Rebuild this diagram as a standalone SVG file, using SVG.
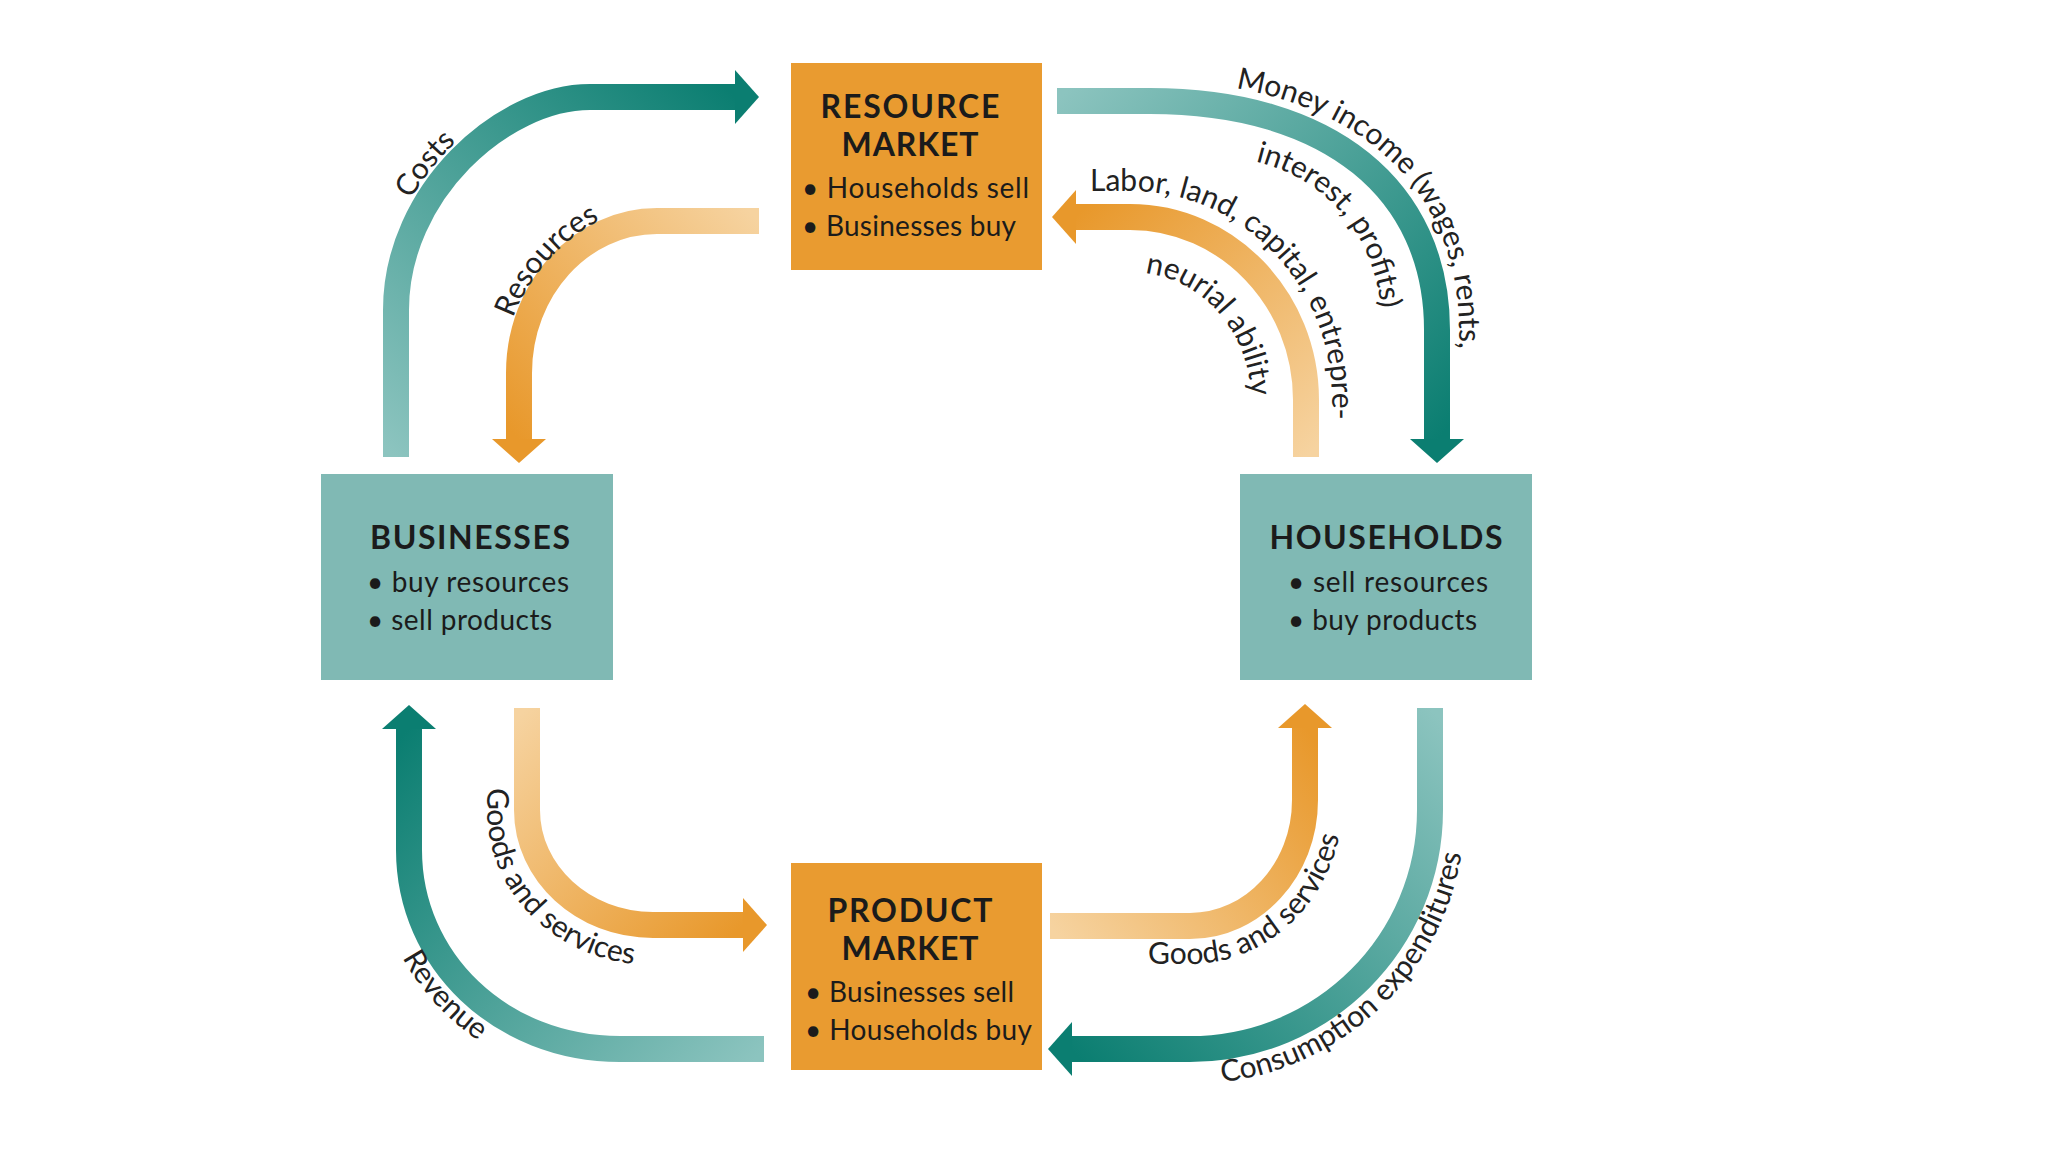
<svg xmlns="http://www.w3.org/2000/svg" width="2048" height="1152" viewBox="0 0 2048 1152">
<style>
.arrow{fill:none;stroke-width:26;stroke-linecap:butt}
.title{font-family:Lato,"Liberation Sans",sans-serif;font-weight:bold;font-size:32px;fill:#1b1b1b}
.bul{font-family:Lato,"Liberation Sans",sans-serif;font-size:28px;fill:#1b1b1b}
.tbox{fill:#80b9b4}
.obox{fill:#e99b30}
.lbl{font-family:Lato,"Liberation Sans",sans-serif;font-size:30px;fill:#222}
</style>
<defs>
<marker id="hT" markerUnits="userSpaceOnUse" viewBox="0 0 24 54" refX="1" refY="27" markerWidth="24" markerHeight="54" orient="auto"><path d="M0,0 L24,27 L0,54 Z" fill="#0b7e71"/></marker>
<marker id="hO" markerUnits="userSpaceOnUse" viewBox="0 0 24 54" refX="1" refY="27" markerWidth="24" markerHeight="54" orient="auto"><path d="M0,0 L24,27 L0,54 Z" fill="#e8982b"/></marker>
<linearGradient id="gCosts" gradientUnits="userSpaceOnUse" x1="396" y1="457" x2="736" y2="97"><stop offset="0" stop-color="#8cc4bf"/><stop offset="1" stop-color="#0b7e71"/></linearGradient>
<linearGradient id="gMoney" gradientUnits="userSpaceOnUse" x1="1057" y1="101" x2="1437" y2="440"><stop offset="0" stop-color="#8cc4bf"/><stop offset="1" stop-color="#0b7e71"/></linearGradient>
<linearGradient id="gRev" gradientUnits="userSpaceOnUse" x1="764" y1="1049" x2="409" y2="728"><stop offset="0" stop-color="#8cc4bf"/><stop offset="1" stop-color="#0b7e71"/></linearGradient>
<linearGradient id="gCons" gradientUnits="userSpaceOnUse" x1="1430" y1="708" x2="1071" y2="1049"><stop offset="0" stop-color="#8cc4bf"/><stop offset="1" stop-color="#0b7e71"/></linearGradient>
<linearGradient id="gRes" gradientUnits="userSpaceOnUse" x1="759" y1="221" x2="519" y2="440"><stop offset="0" stop-color="#f6d3a0"/><stop offset="1" stop-color="#e8982b"/></linearGradient>
<linearGradient id="gLab" gradientUnits="userSpaceOnUse" x1="1306" y1="457" x2="1075" y2="217"><stop offset="0" stop-color="#f6d3a0"/><stop offset="1" stop-color="#e8982b"/></linearGradient>
<linearGradient id="gGL" gradientUnits="userSpaceOnUse" x1="527" y1="708" x2="744" y2="925"><stop offset="0" stop-color="#f6d3a0"/><stop offset="1" stop-color="#e8982b"/></linearGradient>
<linearGradient id="gGR" gradientUnits="userSpaceOnUse" x1="1050" y1="926" x2="1305" y2="727"><stop offset="0" stop-color="#f6d3a0"/><stop offset="1" stop-color="#e8982b"/></linearGradient>
<path id="tCosts" d="M380,457 L380,310 C380,184 496,81 590,81 L760,81"/>
<path id="tRes" d="M503,440 L503,373 C503,280 588,205 657,205 L759,205"/>
<path id="tMoney" d="M1050,81 L1150,81 C1345,81 1459,180 1459,330 L1459,440"/>
<path id="tInt" d="M1200,155 C1320,155 1382,235 1382,330 L1382,380"/>
<path id="tLab" d="M1060,191 L1130,191 C1242,191 1332,285 1332,400 L1332,450"/>
<path id="tNeu" d="M1100,272 L1130,272 C1197,272 1251,329 1251,400 L1251,450"/>
<path id="tRev" d="M375,720 L375,850 C375,979 484,1083 620,1083 L780,1083"/>
<path id="tGL" d="M487,700 L487,810 C487,896 561,965 653,965 L790,965"/>
<path id="tGR" d="M1030,964 L1190,964 C1274,964 1343,891 1343,800 L1343,700"/>
<path id="tCons" d="M1040,1084 L1190,1084 C1342,1084 1465,961 1465,810 L1465,700"/>
</defs>
<rect width="2048" height="1152" fill="#ffffff"/>

<g id="connectors">
<path class="arrow" stroke="url(#gCosts)" marker-end="url(#hT)" d="M396,457 L396,310 C396,192 503,97 590,97 L736,97"/>
<path class="arrow" stroke="url(#gRes)" marker-end="url(#hO)" d="M759,221 L657,221 C581,221 519,289 519,373 L519,440"/>
<path class="arrow" stroke="url(#gMoney)" marker-end="url(#hT)" d="M1057,101 L1150,101 C1330,101 1437,190 1437,330 L1437,440"/>
<path class="arrow" stroke="url(#gLab)" marker-end="url(#hO)" d="M1306,457 L1306,400 C1306,299 1227,217 1130,217 L1075,217"/>
<path class="arrow" stroke="url(#gRev)" marker-end="url(#hT)" d="M764,1049 L620,1049 C500,1049 409,960 409,850 L409,728"/>
<path class="arrow" stroke="url(#gGL)" marker-end="url(#hO)" d="M527,708 L527,810 C527,873 583,925 653,925 L744,925"/>
<path class="arrow" stroke="url(#gGR)" marker-end="url(#hO)" d="M1050,926 L1190,926 C1253,926 1305,870 1305,800 L1305,727"/>
<path class="arrow" stroke="url(#gCons)" marker-end="url(#hT)" d="M1430,708 L1430,810 C1430,942 1323,1049 1190,1049 L1071,1049"/>
<text class="lbl"><textPath href="#tCosts" startOffset="300" text-anchor="middle">Costs</textPath></text>
<text class="lbl"><textPath href="#tRes" startOffset="190" text-anchor="middle">Resources</textPath></text>
<text class="lbl"><textPath href="#tMoney" startOffset="186">Money income (wages, rents,</textPath></text>
<text class="lbl"><textPath href="#tInt" startOffset="56">interest, profits)</textPath></text>
<text class="lbl"><textPath href="#tLab" startOffset="30">Labor, land, capital, entrepre-</textPath></text>
<text class="lbl"><textPath href="#tNeu" startOffset="45">neurial ability</textPath></text>
<text class="lbl"><textPath href="#tRev" startOffset="299" text-anchor="middle">Revenue</textPath></text>
<text class="lbl"><textPath href="#tGL" startOffset="88">Goods and services</textPath></text>
<text class="lbl"><textPath href="#tGR" startOffset="118">Goods and services</textPath></text>
<text class="lbl"><textPath href="#tCons" startOffset="182">Consumption expenditures</textPath></text>
</g>

<g id="resource-market">
<rect class="obox" x="791" y="63" width="251" height="207"/>
<text class="title" x="910" y="118" text-anchor="middle" textLength="179">RESOURCE</text>
<text class="title" x="910" y="156" text-anchor="middle" textLength="137">MARKET</text>
<text class="bul" x="802" y="198" textLength="227">• Households sell</text>
<text class="bul" x="802" y="236" textLength="214">• Businesses buy</text>
</g>

<g id="product-market">
<rect class="obox" x="791" y="863" width="251" height="207"/>
<text class="title" x="910" y="922" text-anchor="middle" textLength="165">PRODUCT</text>
<text class="title" x="910" y="960" text-anchor="middle" textLength="137">MARKET</text>
<text class="bul" x="805" y="1002" textLength="209">• Businesses sell</text>
<text class="bul" x="805" y="1040" textLength="227">• Households buy</text>
</g>

<g id="businesses">
<rect class="tbox" x="321" y="474" width="292" height="206"/>
<text class="title" x="470" y="549" text-anchor="middle" textLength="200">BUSINESSES</text>
<text class="bul" x="367" y="592" textLength="202">• buy resources</text>
<text class="bul" x="367" y="630" textLength="185">• sell products</text>
</g>

<g id="households">
<rect class="tbox" x="1240" y="474" width="292" height="206"/>
<text class="title" x="1386" y="549" text-anchor="middle" textLength="233">HOUSEHOLDS</text>
<text class="bul" x="1288" y="592" textLength="200">• sell resources</text>
<text class="bul" x="1288" y="630" textLength="189">• buy products</text>
</g>
</svg>
